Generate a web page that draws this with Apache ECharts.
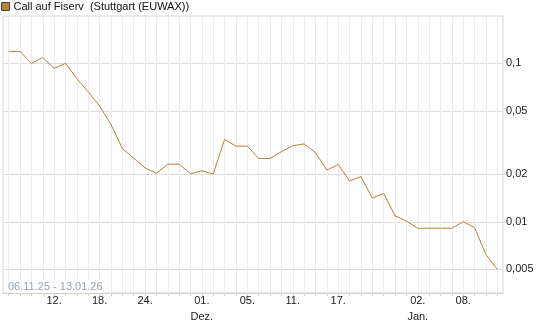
<!DOCTYPE html>
<html>
<head>
<meta charset="utf-8">
<script src="https://cdn.jsdelivr.net/npm/echarts@6/dist/echarts.min.js"></script>
<style>
html,body{margin:0;padding:0;background:#fff;}
#chart{width:545px;height:327px;}
</style>
</head>
<body>
<div id="chart"></div>
<script>
// trading days 06.11.25 - 13.01.26
const dates = ['06.11.','07.11.','10.11.','11.11.','12.11.','13.11.','14.11.','17.11.','18.11.','19.11.','20.11.','21.11.','24.11.','25.11.','26.11.','27.11.','28.11.',
  '01.12.','02.12.','03.12.','04.12.','05.12.','08.12.','09.12.','10.12.','11.12.','12.12.','15.12.','16.12.','17.12.','18.12.','19.12.','22.12.','23.12.','29.12.','30.12.',
  '02.01.','05.01.','06.01.','07.01.','08.01.','09.01.','12.01.','13.01.'];
const values = [0.119,0.119,0.1,0.109,0.093,0.1,0.080,0.066,0.0537,0.0412,0.029,0.0252,0.0219,0.0202,0.0231,0.0231,0.0201,
  0.021,0.02,0.0331,0.030,0.030,0.0251,0.0251,0.0277,0.0302,0.031,0.0273,0.0212,0.023,0.0181,0.0193,0.0141,0.0151,0.0109,0.0101,
  0.0091,0.0091,0.0091,0.0091,0.0100,0.0092,0.0062,0.005];
const xTickDates = ['12.11.','18.11.','24.11.','01.12.','05.12.','11.12.','17.12.','02.01.','08.01.'];
const xTickLabels = ['12.','18.','24.','01.\nDez.','05.','11.','17.','02.\nJan.','08.'];
const yTicks = [0.1, 0.05, 0.02, 0.01, 0.005];
const yMin = 0.00355, yMax = 0.199;
const seriesName = 'Call auf Fiserv  (Stuttgart (EUWAX))';
const rangeText = '06.11.25 - 13.01.26';

const lg = v => Math.log10(v);
const xLabelIdx = xTickDates.map(d => dates.indexOf(d));
const labelMap = {};
xLabelIdx.forEach((idx, k) => { labelMap[idx] = xTickLabels[k]; });

const chart = echarts.init(document.getElementById('chart'), null, {renderer: 'canvas'});
chart.setOption({
  animation: false,
  backgroundColor: '#fff',
  textStyle: {fontFamily: 'Liberation Sans, Arial, sans-serif'},
  legend: {
    left: 1, top: 1, padding: 0,
    icon: 'rect', itemWidth: 8, itemHeight: 8, itemGap: 10,
    textStyle: {fontSize: 11, color: '#111', fontFamily: 'Liberation Sans, Arial, sans-serif', padding: [0,0,0,-1]},
    itemStyle: {borderColor: '#444', borderWidth: 1},
    data: [seriesName]
  },
  graphic: [{
    type: 'text', left: 6, top: 280, z: 100,
    style: {text: rangeText, fill: '#97a2b6', fontSize: 11, fontFamily: 'Liberation Sans, Arial, sans-serif',
      backgroundColor: '#fff', padding: [1, 2]}
  }],
  grid: {left: 3, right: 42, top: 16, bottom: 34, show: true, borderColor: '#d6d6d6', borderWidth: 1, containLabel: false},
  xAxis: {
    type: 'value', min: -0.5, max: dates.length - 0.5,
    axisLine: {show: true, lineStyle: {color: '#d0d0d0'}},
    axisTick: {show: true, length: 3, lineStyle: {color: '#d0d0d0'}, customValues: dates.map((d, i) => i)},
    axisLabel: {
      customValues: xLabelIdx, margin: 0, fontSize: 11, color: '#222', lineHeight: 16,
      fontFamily: 'Liberation Sans, Arial, sans-serif',
      formatter: v => labelMap[Math.round(v)] || ''
    },
    splitLine: {show: true, lineStyle: {color: '#ececec', width: 1}}
  },
  yAxis: {
    type: 'value', position: 'right', min: lg(yMin), max: lg(yMax),
    axisLine: {show: false},
    axisTick: {show: false, customValues: yTicks.map(lg)},
    axisLabel: {
      customValues: yTicks.map(lg), margin: 3, fontSize: 11, color: '#222',
      fontFamily: 'Liberation Sans, Arial, sans-serif',
      formatter: v => String(Math.round(Math.pow(10, v) * 10000) / 10000).replace('.', ',')
    },
    splitLine: {show: true, lineStyle: {color: '#dcdcdc', width: 1}}
  },
  series: [{
    name: seriesName, type: 'line', showSymbol: false, symbol: 'none',
    color: '#b5823a',
    lineStyle: {width: 1, color: '#b5823a'},
    data: values.map((v, i) => [i, lg(v)])
  }]
});
</script>
</body>
</html>
